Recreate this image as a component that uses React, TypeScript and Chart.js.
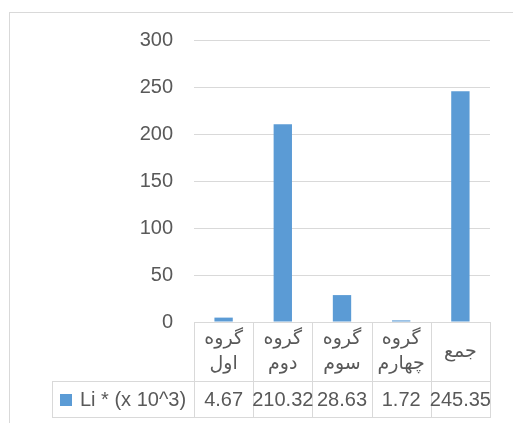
import React, { useEffect, useRef } from "react";
import { Chart, registerables } from "chart.js";

Chart.register(...registerables);

const categories: string[][] = [
  ["گروه", "اول"],
  ["گروه", "دوم"],
  ["گروه", "سوم"],
  ["گروه", "چهارم"],
  ["جمع"],
];
const seriesName = "Li * (x 10^3)";
const seriesValues = [4.67, 210.32, 28.63, 1.72, 245.35];
const yMin = 0;
const yMax = 300;
const yStep = 50;

const TEXT = "#595959";
const LINE = "#d9d9d9";
const BAR = "#5b9bd5";
const FONT = '"Liberation Sans", "DejaVu Sans", sans-serif';

const tablePlugin = {
  id: "dataTable",
  beforeDraw(chart: any) {
    const ctx = chart.ctx;
    ctx.save();
    ctx.strokeStyle = LINE;
    ctx.lineWidth = 1;
    ctx.strokeRect(9.5, 12.5, 700, 600);
    ctx.restore();
  },
  afterDraw(chart: any) {
    const ctx = chart.ctx;
    const area = chart.chartArea;
    const n = categories.length;
    const cw = (area.right - area.left) / n;
    const top = area.bottom;
    const mid = top + 59;
    const bottom = mid + 36;
    const legendLeft = 52;
    ctx.save();
    ctx.strokeStyle = LINE;
    ctx.lineWidth = 1;
    ctx.beginPath();
    for (let i = 0; i <= n; i++) {
      const x = Math.round(area.left + i * cw) + 0.5;
      ctx.moveTo(x, top);
      ctx.lineTo(x, bottom);
    }
    ctx.moveTo(legendLeft + 0.5, mid);
    ctx.lineTo(legendLeft + 0.5, bottom);
    ctx.moveTo(legendLeft, Math.round(mid) + 0.5);
    ctx.lineTo(area.right + 1, Math.round(mid) + 0.5);
    ctx.moveTo(legendLeft, Math.round(bottom) + 0.5);
    ctx.lineTo(area.right + 1, Math.round(bottom) + 0.5);
    ctx.stroke();

    ctx.fillStyle = TEXT;
    ctx.textAlign = "center";
    ctx.textBaseline = "middle";
    ctx.font = `19px ${FONT}`;
    const lh = 25;
    categories.forEach((lines, i) => {
      const cx = area.left + (i + 0.5) * cw;
      const cy = (top + mid) / 2;
      const start = cy - ((lines.length - 1) * lh) / 2;
      lines.forEach((t, j) => {
        ctx.fillText(t, cx, start + j * lh);
      });
    });
    ctx.font = `20px ${FONT}`;
    const vy = (mid + bottom) / 2 + 1;
    seriesValues.forEach((v, i) => {
      const cx = area.left + (i + 0.5) * cw;
      ctx.fillText(v.toFixed(2), cx, vy);
    });
    ctx.fillStyle = BAR;
    ctx.fillRect(60, Math.round(vy - 6), 12, 12);
    ctx.fillStyle = TEXT;
    ctx.textAlign = "left";
    ctx.fillText(seriesName, 80, vy);
    ctx.restore();
  },
};

export default function App() {
  const ref = useRef<HTMLCanvasElement | null>(null);
  useEffect(() => {
    if (!ref.current) return;
    const chart = new Chart(ref.current, {
      type: "bar",
      data: {
        labels: categories.map((c) => c.join(" ")),
        datasets: [
          {
            label: seriesName,
            data: seriesValues,
            backgroundColor: BAR,
            barPercentage: 0.62,
            categoryPercentage: 0.5,
          },
        ],
      },
      options: {
        responsive: false,
        animation: false,
        maintainAspectRatio: false,
        layout: { padding: { left: 0, right: 23, top: 40, bottom: 101 } },
        plugins: { legend: { display: false }, tooltip: { enabled: false } },
        scales: {
          x: { display: false },
          y: {
            min: yMin,
            max: yMax,
            border: { display: false },
            grid: { color: LINE, drawTicks: false, lineWidth: 1 },
            ticks: {
              stepSize: yStep,
              padding: 21,
              color: TEXT,
              font: { family: FONT, size: 20 },
            },
            afterFit: (s: any) => {
              s.width = 194;
            },
          },
        },
      },
      plugins: [tablePlugin],
    });
    return () => chart.destroy();
  }, []);
  return (
    <div style={{ position: "fixed", left: 0, top: 0, width: 513, height: 423, background: "#fff" }}>
      <canvas ref={ref} width={513} height={423} style={{ display: "block" }} />
    </div>
  );
}
